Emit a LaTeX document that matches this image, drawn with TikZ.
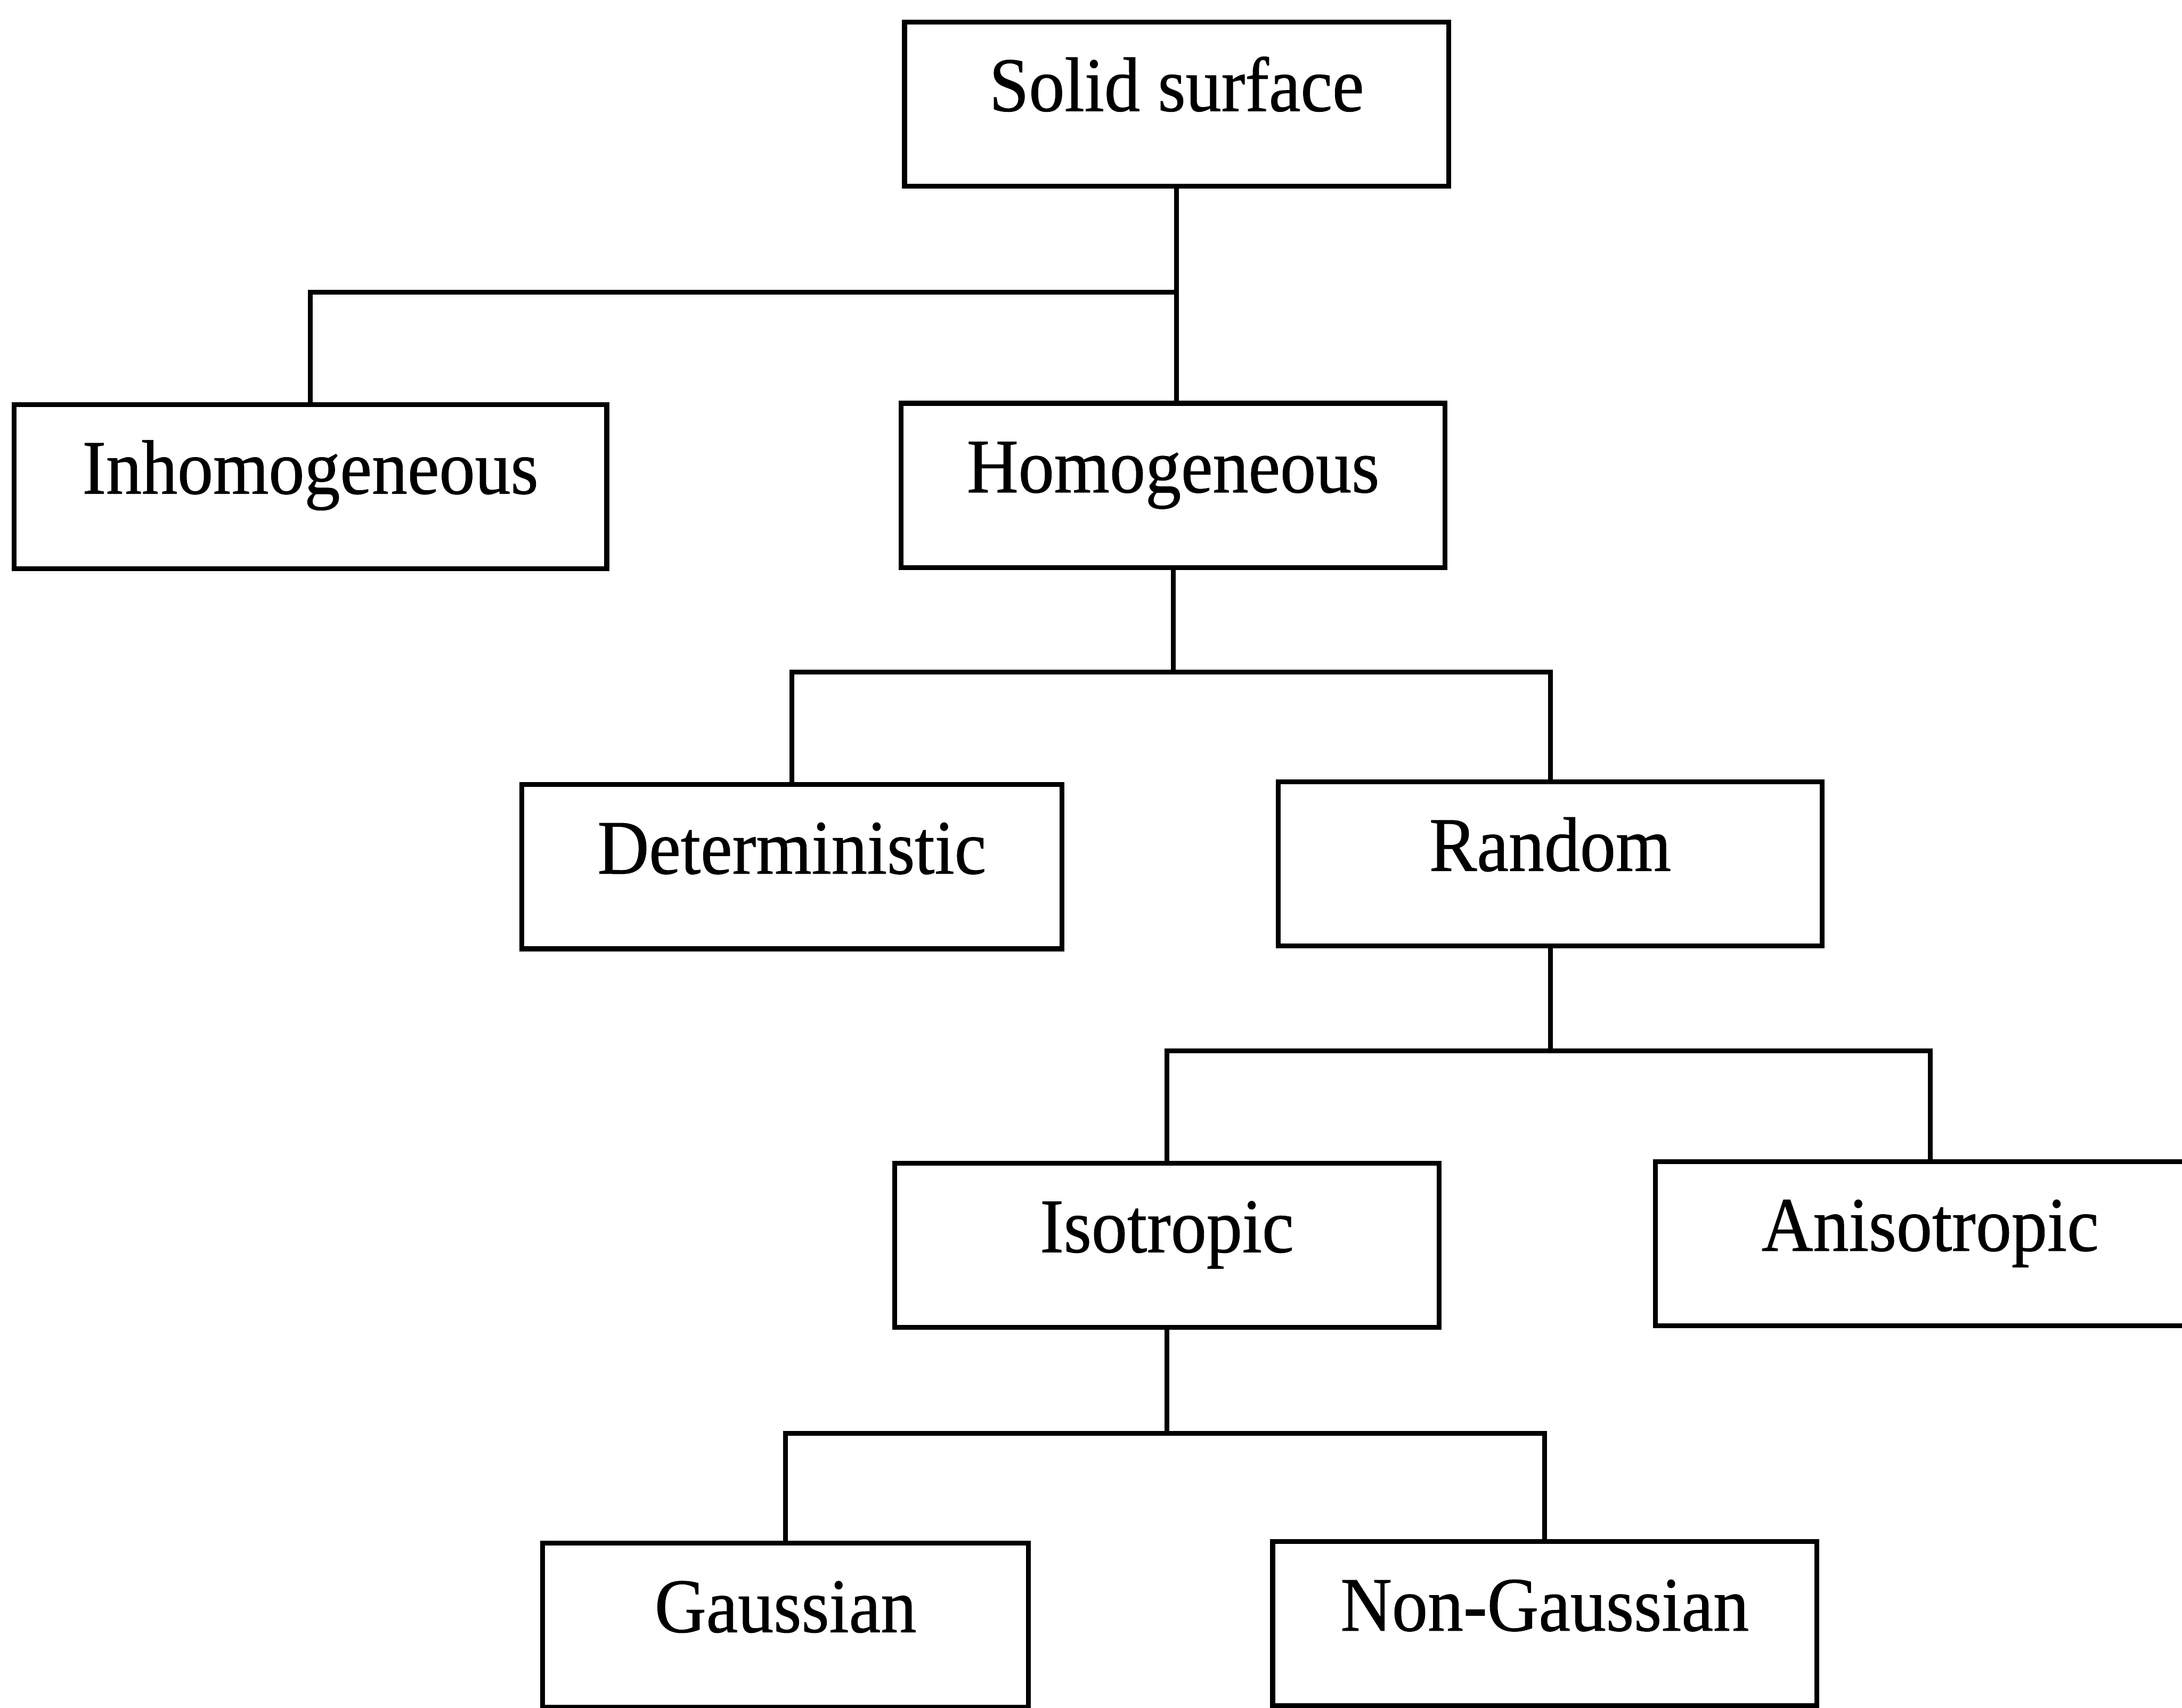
\documentclass[tikz,border=0pt]{standalone}
\usepackage{fontspec}
\setmainfont{Liberation Serif}
\newfontfamily\scanfont{Liberation Serif}[FakeBold=0.7]
\usepackage{graphicx}
\newcommand{\tall}[1]{\scalebox{1}[1.08]{#1}}
\begin{document}
\begin{tikzpicture}[
  box/.style={draw, line width=1pt, anchor=north, inner sep=0pt,
    minimum width=3.91cm, text height=0.64cm, text depth=0.54cm,
    font=\scanfont\fontsize{14.6}{17}\selectfont},
  link/.style={line width=1pt}]
\useasboundingbox (0,0) rectangle (15.68,-12.27);
\clip (0,0) rectangle (15.68,-12.27);

% Top
\node[box] (solid) at (8.455,-0.14) {\tall{Solid surface}};

% Level 1
\node[box, minimum width=4.26cm] (inhom) at (2.23,-2.89) {\tall{Inhomogeneous}};
\node[box] (hom) at (8.43,-2.88) {\tall{Homogeneous}};
\coordinate (j1) at (8.455,-2.10);
\draw[link] (solid.south) -- (j1) -- (j1 |- hom.north);
\draw[link] (j1) -| (inhom.north);

% Level 2
\node[box, minimum width=3.88cm] (det) at (5.69,-5.62) {\tall{Deterministic}};
\node[box] (rand) at (11.14,-5.60) {\tall{Random}};
\coordinate (j2) at (8.43,-4.83);
\draw[link] (hom.south) -- (j2);
\draw[link] (det.north) |- (j2) -| (rand.north);

% Level 3
\node[box] (iso) at (8.385,-8.34) {\tall{Isotropic}};
\node[box, minimum width=3.95cm] (aniso) at (13.87,-8.33) {\tall{Anisotropic}};
\coordinate (j3) at (11.14,-7.55);
\draw[link] (rand.south) -- (j3);
\draw[link] (iso.north) |- (j3) -| (aniso.north);

% Level 4
\node[box, minimum width=3.49cm] (gauss) at (5.645,-11.07) {\tall{Gaussian}};
\node[box] (nong) at (11.10,-11.06) {\tall{Non-Gaussian}};
\coordinate (j4) at (8.385,-10.30);
\draw[link] (iso.south) -- (j4);
\draw[link] (gauss.north) |- (j4) -| (nong.north);
\end{tikzpicture}
\end{document}
